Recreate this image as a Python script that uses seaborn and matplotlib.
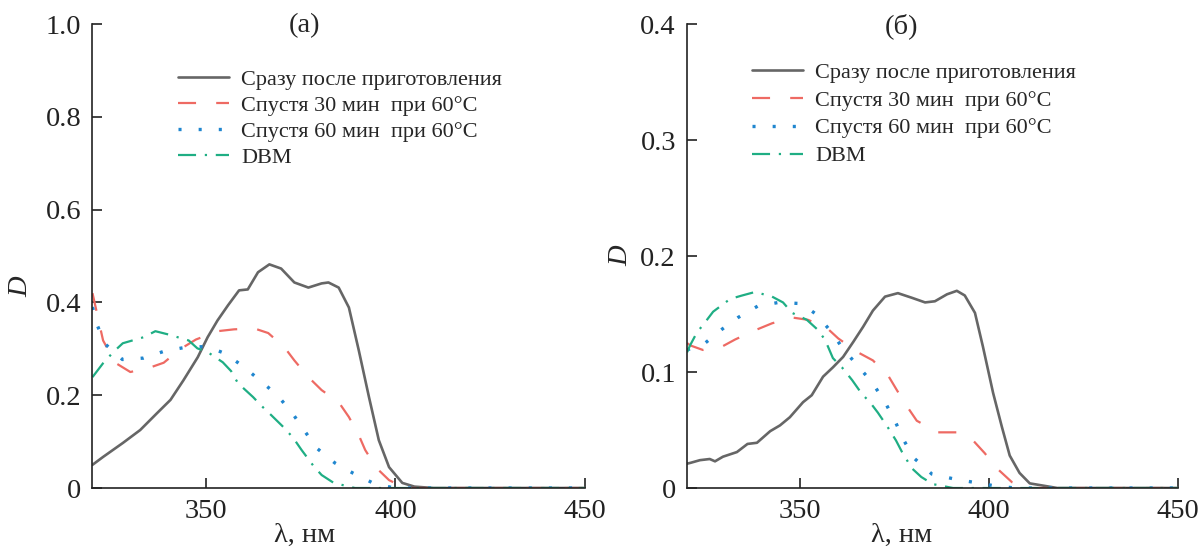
import numpy as np
import matplotlib
matplotlib.use("Agg")
import matplotlib.pyplot as plt
import seaborn as sns

# ---- data, panel (a) ----
a_fresh_x = [320, 322.8, 328, 332.6, 337, 340.6, 344, 347.8, 350.4, 353, 355.8, 358.7, 361,
             363.7, 366.7, 369.8, 373.3, 377, 380.5, 382.3, 385, 387.7, 390.3, 393, 395.6,
             398.3, 401.8, 405, 410, 420, 430, 440, 450]
a_fresh_y = [0.05, 0.067, 0.097, 0.125, 0.161, 0.19, 0.232, 0.282, 0.325, 0.361, 0.394, 0.426, 0.428,
             0.465, 0.482, 0.473, 0.443, 0.432, 0.441, 0.443, 0.432, 0.389, 0.297, 0.196, 0.103,
             0.045, 0.011, 0.003, 0.0, 0.0, 0.0, 0.0, 0.0]

a_30_x = [320, 322.8, 326, 330, 335.3, 338.8, 343.3, 347.3, 353, 357.4, 362.7, 366.4, 370.7, 373.3,
          377, 380.5, 385, 387.7, 390.3, 392, 395, 398.3, 402.5, 410, 420, 430, 440, 450]
a_30_y = [0.42, 0.318, 0.27, 0.25, 0.26, 0.27, 0.30, 0.32, 0.338, 0.342, 0.344, 0.334, 0.303, 0.275,
          0.239, 0.211, 0.185, 0.153, 0.114, 0.082, 0.043, 0.017, 0.0, 0.0, 0.0, 0.0, 0.0, 0.0]

a_60_x = [320, 321.3, 323.4, 327.9, 333.5, 339, 344.4, 350.2, 355, 359.8, 364.5, 368.8, 372.8, 376,
          379.2, 384, 388.8, 394, 399.6, 410, 420, 430, 440, 450]
a_60_y = [0.39, 0.35, 0.31, 0.277, 0.28, 0.295, 0.303, 0.305, 0.29, 0.262, 0.23, 0.2, 0.161, 0.123,
          0.086, 0.054, 0.032, 0.011, 0.0, 0.0, 0.0, 0.0, 0.0, 0.0]

a_dbm_x = [320, 322.8, 325.5, 328, 333.5, 336.6, 340, 345.4, 347.7, 350.4, 354.4, 356.6, 358.4, 362.4,
           364.5, 367.2, 370.7, 373, 375.2, 378.4, 380.5, 383.7, 389.3, 400, 410, 420, 430, 440, 450]
a_dbm_y = [0.239, 0.269, 0.293, 0.312, 0.325, 0.338, 0.331, 0.318, 0.301, 0.293, 0.271, 0.252, 0.226,
           0.196, 0.178, 0.157, 0.129, 0.108, 0.082, 0.047, 0.028, 0.011, 0.0, 0.0, 0.0, 0.0, 0.0, 0.0, 0.0]

# ---- data, panel (б) ----
b_fresh_x = [320, 320.8, 323.4, 326, 327.4, 329.5, 333.2, 336, 338.5, 342, 344.6, 347.2, 350.7, 353,
             356, 358.6, 361.3, 364, 366.6, 369.2, 372.4, 375.8, 379.5, 383, 385.6, 388.8, 391.4,
             393.5, 396.2, 398.3, 401, 403.3, 405.4, 408, 410.7, 418, 430, 440, 450]
b_fresh_y = [0.021, 0.0216, 0.024, 0.025, 0.023, 0.027, 0.031, 0.038, 0.039, 0.049, 0.054, 0.061, 0.074,
             0.08, 0.096, 0.104, 0.113, 0.126, 0.139, 0.153, 0.165, 0.168, 0.164, 0.16, 0.161, 0.167,
             0.17, 0.166, 0.151, 0.122, 0.082, 0.053, 0.028, 0.013, 0.004, 0.0, 0.0, 0.0, 0.0]

b_30_x = [320, 320.8, 324.2, 329.3, 332.7, 338, 342.5, 347.8, 352, 357, 360, 365.2, 369.2, 373.4,
          375.6, 378.5, 380.8, 386.4, 391.4, 395.7, 398.8, 402, 406, 410, 420, 430, 440, 450]
b_30_y = [0.125, 0.123, 0.119, 0.122, 0.128, 0.136, 0.142, 0.147, 0.145, 0.138, 0.129, 0.117, 0.11,
          0.096, 0.084, 0.069, 0.058, 0.048, 0.048, 0.041, 0.03, 0.017, 0.005, 0.0, 0.0, 0.0, 0.0, 0.0]

b_60_x = [320, 324.8, 329.3, 333.5, 338.8, 344.3, 350.2, 354.1, 358.1, 361.3, 365, 369, 372.4, 375,
          377.4, 380, 384.8, 390.4, 395.7, 401.2, 406.8, 420, 430, 440, 450]
b_60_y = [0.119, 0.125, 0.137, 0.147, 0.157, 0.16, 0.159, 0.15, 0.135, 0.12, 0.106, 0.091, 0.074,
          0.058, 0.041, 0.026, 0.012, 0.008, 0.005, 0.002, 0.0, 0.0, 0.0, 0.0, 0.0]

b_dbm_x = [320, 320.8, 322.6, 324.8, 326.9, 331.4, 334.6, 338, 342.5, 345.4, 347.8, 351.7, 354.4,
           356.5, 358.6, 361, 363.7, 366.3, 368.4, 370.5, 373.2, 375.3, 376.9, 379.5, 382, 385,
           390.4, 400, 410, 420, 430, 440, 450]
b_dbm_y = [0.117, 0.123, 0.134, 0.143, 0.152, 0.163, 0.166, 0.169, 0.165, 0.16, 0.151, 0.145, 0.137,
           0.128, 0.112, 0.104, 0.093, 0.081, 0.074, 0.065, 0.052, 0.041, 0.031, 0.017, 0.0095, 0.0034,
           0.0, 0.0, 0.0, 0.0, 0.0, 0.0, 0.0]

labels = ["Сразу после приготовления", "Спустя 30 мин  при 60°C",
          "Спустя 60 мин  при 60°C", "DBM"]

# ---- styles ----
colors = ["#666666", "#ee6a63", "#1f86cf", "#1fae84"]
styles = [
    dict(linestyle="-", linewidth=1.9),
    dict(linestyle=(0, (13, 14.5)), linewidth=1.6),
    dict(linestyle=(0, (2.2, 12.3)), linewidth=2.4),
    dict(linestyle=(0, (13, 6.3, 1.6, 6.3)), linewidth=1.6),
]

sns.set_style("ticks")
plt.rcParams["font.family"] = ["Liberation Serif", "DejaVu Serif"]
plt.rcParams["lines.scale_dashes"] = False

fig = plt.figure(figsize=(11.98, 5.5), dpi=100)
ax_a = fig.add_axes([0.0772, 0.1127, 0.4110, 0.8436])
ax_b = fig.add_axes([0.5735, 0.1127, 0.4100, 0.8436])

# per panel: axes, series, ymax, yticks, title, legend anchor, label spacing,
# title/xlabel centre x (fig px), ylabel centre (fig px)
panels = [
    (ax_a, [(a_fresh_x, a_fresh_y), (a_30_x, a_30_y), (a_60_x, a_60_y), (a_dbm_x, a_dbm_y)],
     1.0, [0, 0.2, 0.4, 0.6, 0.8, 1.0], "(а)", (0.1486, 0.874), 0.24, 305, (21, 287)),
    (ax_b, [(b_fresh_x, b_fresh_y), (b_30_x, b_30_y), (b_60_x, b_60_y), (b_dbm_x, b_dbm_y)],
     0.4, [0, 0.1, 0.2, 0.3, 0.4], "(б)", (0.6277, 0.887), 0.33, 902, (621, 256)),
]

W, H = 1198, 550
for ax, series, ymax, yticks, title, leg_pos, lsp, cx, ylab in panels:
    for (xs, ys), lab, col, st in zip(series, labels, colors, styles):
        sns.lineplot(x=xs, y=ys, ax=ax, color=col, label=lab,
                     dash_capstyle="butt", **st)
    ax.set_xlim(320, 450)
    ax.set_ylim(0, ymax)
    ax.set_xticks([350, 400, 450])
    ax.set_yticks(yticks)
    ax.set_yticklabels(["0" if t == 0 else f"{t:.1f}" for t in yticks])
    ax.tick_params(direction="in", length=7, width=1.2, labelsize=20.5, pad=8, colors="#222222")
    for side in ["top", "right"]:
        ax.spines[side].set_visible(False)
    for side in ["left", "bottom"]:
        ax.spines[side].set_linewidth(1.2)
        ax.spines[side].set_color("#222222")
    ax.set_xlabel("")
    ax.set_ylabel("")
    fig.text(cx / W, 2 / H, "λ, нм", ha="center", va="bottom", fontsize=20.5)
    fig.text(ylab[0] / W, 1 - ylab[1] / H, "D", ha="center", va="center", fontsize=20.5,
             style="italic", rotation=90)
    fig.text(cx / W, 1 - 26 / H, title, ha="center", va="center", fontsize=20.5)
    ax.legend(loc="upper left", bbox_to_anchor=leg_pos, bbox_transform=fig.transFigure,
              frameon=False, fontsize=16, handlelength=2.3, handletextpad=0.55,
              labelspacing=lsp, borderpad=0, borderaxespad=0)

fig.savefig("out.png", dpi=100)
